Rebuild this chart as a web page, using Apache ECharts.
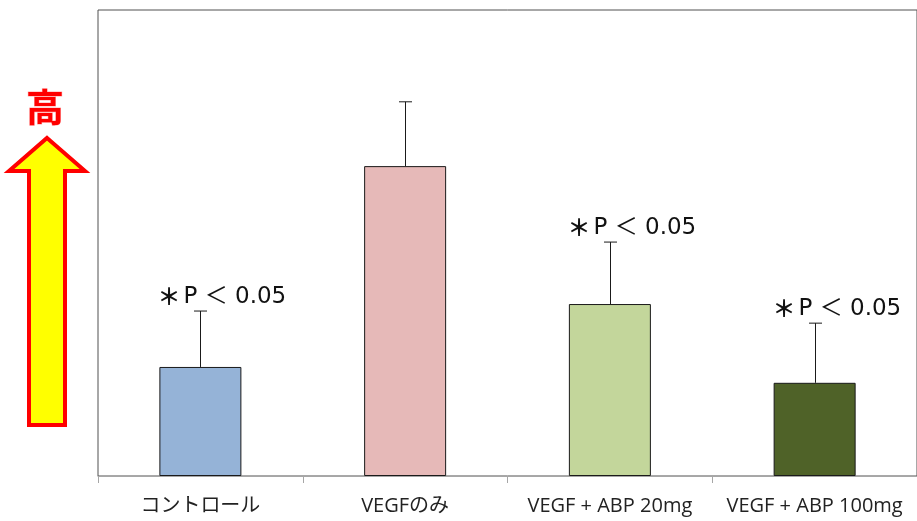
<!DOCTYPE html>
<html>
<head>
<meta charset="utf-8">
<script src="https://cdn.jsdelivr.net/npm/echarts@6/dist/echarts.min.js"></script>
<style>
html,body{margin:0;padding:0;background:#fff;}
#chart{width:917px;height:521px;}
</style>
</head>
<body>
<div id="chart"></div>
<script>
const categories = ['コントロール', 'VEGFのみ', 'VEGF + ABP 20mg', 'VEGF + ABP 100mg'];
const means = [23.4, 66.5, 36.9, 20.0];
const errors = [12.0, 13.8, 13.3, 12.8];
const sigLabels = ['P ＜ 0.05', '', 'P ＜ 0.05', 'P ＜ 0.05'];
const barColors = ['#95B3D7', '#E6B9B8', '#C3D69B', '#4F6228'];

const chart = echarts.init(document.getElementById('chart'));

const errData = categories.map((c, i) => [i, means[i], errors[i], i]);

chart.setOption({
  animation: false,
  grid: {
    left: 98, top: 10, width: 824, bottom: 45,
    show: true, borderColor: '#505050', borderWidth: 1, backgroundColor: 'transparent'
  },
  xAxis: {
    type: 'category',
    data: categories,
    boundaryGap: true,
    axisLine: { show: true, lineStyle: { color: '#A6A6A6', width: 1 } },
    axisTick: { show: true, interval: 0, length: 7, alignWithLabel: false, lineStyle: { color: '#A6A6A6' } },
    axisLabel: {
      interval: 0,
      color: '#222', fontSize: 20, margin: 20,
      fontFamily: '"Open Sans", "Noto Sans CJK JP", sans-serif'
    }
  },
  yAxis: {
    type: 'value', min: 0, max: 100,
    axisLine: { show: false }, axisTick: { show: false },
    axisLabel: { show: false }, splitLine: { show: false }
  },
  series: [
    {
      type: 'bar',
      data: means.map((v, i) => ({ value: v, itemStyle: { color: barColors[i] } })),
      barWidth: 82,
      itemStyle: { borderColor: '#1a1a1a', borderWidth: 1 },
      z: 2
    },
    {
      type: 'custom',
      data: errData,
      z: 3,
      renderItem: function (params, api) {
        const i = api.value(0);
        const m = api.value(1);
        const e = api.value(2);
        const base = api.coord([i, m]);
        const top = api.coord([i, m + e]);
        const x = Math.round(base[0]) + 0.5;
        const capHalf = 6.5;
        const children = [
          { type: 'line', shape: { x1: x, y1: base[1], x2: x, y2: top[1] },
            style: { stroke: '#1a1a1a', lineWidth: 1 } },
          { type: 'line', shape: { x1: x - capHalf, y1: top[1], x2: x + capHalf, y2: top[1] },
            style: { stroke: '#1a1a1a', lineWidth: 1 } }
        ];
        const lbl = sigLabels[api.value(3)];
        if (lbl) {
          children.push({
            type: 'text',
            style: {
              text: '{a|＊}{b|' + lbl + '}', x: x - 43, y: top[1] - 3,
              align: 'left', verticalAlign: 'bottom',
              rich: {
                a: { fontSize: 23, fontWeight: 'bold', fill: '#111', color: '#111',
                     fontFamily: '"Noto Sans CJK JP", sans-serif', padding: [0, 3, 0, 0] },
                b: { fontSize: 23, fill: '#111', color: '#111',
                     fontFamily: '"DejaVu Sans", "Noto Sans CJK JP", sans-serif' }
              }
            }
          });
        }
        return { type: 'group', children: children };
      }
    }
  ],
  graphic: [
    {
      type: 'polygon',
      shape: { points: [[47, 138], [85, 171], [65, 171], [65, 425], [29, 425], [29, 171], [9, 171]] },
      style: { fill: '#FFFF00', stroke: '#FF0000', lineWidth: 4, lineJoin: 'miter' }
    },
    {
      type: 'text',
      style: {
        text: '高', x: 45, y: 107, align: 'center', verticalAlign: 'middle',
        fill: '#FF0000', fontSize: 38, fontWeight: 'bold',
        fontFamily: '"Noto Sans CJK JP", sans-serif',
        stroke: 'rgba(255,120,120,0.6)', lineWidth: 1
      }
    }
  ]
});
</script>
</body>
</html>
